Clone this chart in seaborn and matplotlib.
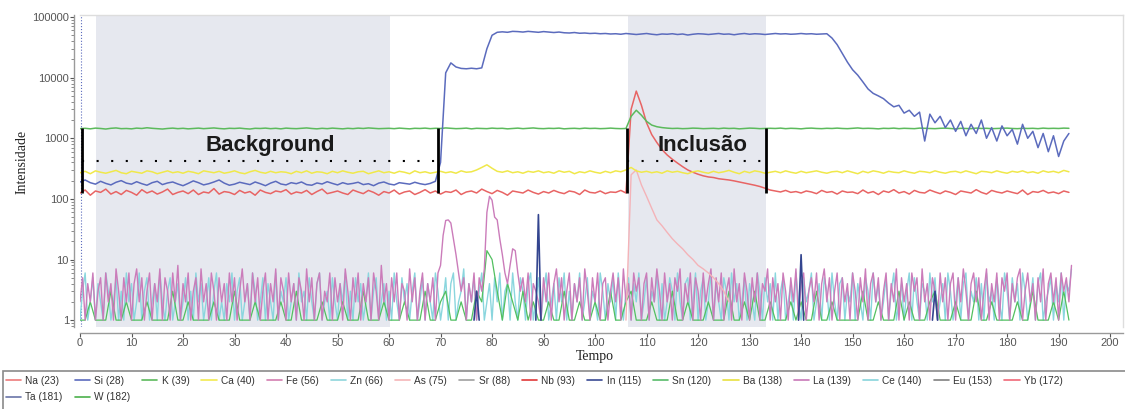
import matplotlib
matplotlib.use("Agg")
import numpy as np
import pandas as pd
import matplotlib.pyplot as plt
from matplotlib.lines import Line2D
from matplotlib.patches import Rectangle
from matplotlib.ticker import LogLocator, NullFormatter
import seaborn as sns

# ---------------- data ----------------
# 1-second series, t = 0 .. 192 s
si_vals = [
    190,205,185,175,195,180,170,188,200,182,175,192,178,168,185,195,172,183,190,176,
    165,180,198,185,170,178,190,205,182,168,175,188,180,172,190,178,165,182,195,176,
    170,185,178,190,172,168,183,176,192,180,170,185,175,180,188,172,178,165,182,190,
    176,170,185,180,175,188,178,172,180,195,
    400,12000,17500,15000,14200,14000,14300,14000,14500,30000,50000,56000,
    57000,56000,58000,57500,56500,58000,57000,56000,57500,56500,
    55500,56500,55000,54500,55500,54000,54500,53500,54000,53000,
    53500,52500,53000,52000,53500,52500,51500,52500,53500,52000,
    51000,52500,52000,53000,51500,52500,50500,52000,53000,52500,
    51500,52500,53500,52000,52500,51000,52500,53500,52000,53000,
    52500,51500,52500,53500,52500,53000,52000,52500,53500,52500,
    53000,52000,52500,53000,
    45000,35000,25000,18000,13500,11000,8500,6500,5500,5000,
    4500,3800,3300,3500,2600,2900,2300,2700,900,2500,
    1800,2300,1500,2000,1300,1900,1100,1700,1200,2000,
    1000,1500,900,1600,1100,1400,800,1700,1000,1300,
    700,1200,600,1100,500,900,1200,
]
k_vals = [
    1440,1460,1430,1470,1450,1420,1460,1480,1440,1450,
    1430,1470,1450,1490,1460,1440,1420,1450,1470,1440,
    1460,1430,1450,1470,1440,1460,1480,1450,1430,1460,
    1450,1470,1440,1420,1460,1450,1470,1440,1460,1430,
    1470,1450,1440,1460,1480,1450,1430,1460,1440,1470,
    1450,1430,1460,1440,1470,1450,1480,1460,1440,1450,
    1460,1440,1470,1450,1430,1460,1450,1470,1440,1460,
    1450,1480,1460,1440,1450,1470,1430,1460,1450,1440,
    1470,1450,1460,1430,1450,1470,1440,1460,1480,1450,
    1440,1460,1450,1470,1430,1450,1460,1440,1470,1450,
    1460,1440,1450,1470,1450,1440,
    1450,2300,2900,2400,1900,1650,1550,1500,
    1470,1450,1460,1440,1450,1470,1460,1440,1450,1460,
    1440,1470,1450,1460,1430,1450,1470,1460,1440,1450,
    1460,1450,1470,1440,1460,1450,1430,1460,1470,1450,
    1440,1460,1450,1470,1450,1440,1460,1480,1450,1460,
    1450,1430,1460,1450,1470,1440,1460,1450,1440,1470,
    1460,1450,1440,1460,1470,1450,1430,1460,1450,1440,
    1470,1450,1460,1440,1450,1460,1470,1450,1440,1460,
    1450,1460,1440,1470,1450,1460,1450,1470,1460,
]
ca_vals = [
    270,285,260,290,275,265,280,295,270,260,
    285,275,265,290,280,260,275,290,270,280,
    265,285,275,260,290,280,270,285,265,275,
    290,270,260,280,295,275,265,285,270,280,
    275,260,285,270,290,265,280,275,260,285,
    270,290,275,265,280,285,260,275,290,270,
    280,265,285,275,260,290,270,280,265,275,
    285,270,280,265,290,275,280,300,330,365,
    320,285,275,290,270,280,265,285,275,290,
    270,280,265,290,275,285,260,280,270,290,
    275,265,285,270,290,280,300,330,290,275,
    285,270,280,265,290,275,285,270,260,280,
    290,275,265,285,270,280,295,275,260,285,
    270,290,280,265,275,285,270,290,275,265,
    285,270,280,290,275,265,280,285,270,290,
    275,260,285,270,290,280,265,285,275,270,
    290,275,265,285,280,270,290,275,265,280,
    285,270,290,275,260,285,280,270,290,275,
    265,285,275,290,270,280,265,290,275,285,
    270,295,280,
]
na_vals = [
    125,140,115,135,128,145,120,132,118,138,
    128,115,142,125,135,120,130,145,118,128,
    135,122,140,118,130,125,148,120,132,128,
    118,138,125,132,115,140,128,122,135,130,
    142,120,130,125,138,118,132,145,122,128,
    135,125,118,140,130,122,138,128,115,132,
    125,140,120,130,135,118,128,142,125,135,
    120,132,128,140,118,130,135,125,145,132,
    122,138,128,115,135,130,125,140,128,120,
    132,125,138,128,122,135,130,118,140,128,
    125,135,122,130,128,138,125,3000,6000,3500,
    1800,1150,850,650,530,450,390,340,300,275,
    255,240,230,225,215,210,205,198,190,182,
    175,168,160,150,140,135,130,138,128,132,
    125,135,130,122,138,128,132,120,135,128,
    130,122,140,125,132,118,135,128,142,125,
    132,120,138,128,125,140,130,122,135,128,
    118,135,130,125,142,128,120,138,130,125,
    135,128,122,140,118,132,128,138,125,130,
    122,135,128,
]
sn_vals = [
    1,1,2,1,1,1,3,1,1,2,
    1,1,1,2,1,1,1,1,3,1,
    1,2,1,1,1,1,2,1,1,1,
    3,1,1,1,2,1,1,1,1,2,
    1,1,3,1,1,1,1,2,1,1,
    1,2,1,1,1,3,1,1,1,2,
    1,1,1,2,1,1,1,3,1,1,
    2,3,1,1,2,1,1,3,2,14,
    10,3,1,4,2,1,3,1,2,1,
    1,2,1,1,3,1,1,2,1,1,
    2,1,1,3,1,1,2,3,1,1,
    1,2,1,1,1,3,1,1,2,1,
    1,1,2,1,1,1,3,1,1,2,
    1,3,1,1,2,1,1,1,2,1,
    2,1,1,3,1,1,2,1,1,1,
    1,1,3,1,1,2,1,1,1,3,
    1,2,1,1,1,2,3,1,1,1,
    2,1,1,1,3,1,1,2,1,1,
    1,1,2,1,1,3,1,1,1,2,
    1,3,1,
]
# 0.5-second series, t = 0 .. 192.5 s
la_vals = [
    2,5,1,4,2,6,1,3,5,1,6,2,4,1,7,3,1,5,2,6,
    1,4,7,2,5,1,3,6,1,4,2,7,1,5,3,1,6,2,8,1,
    4,2,6,1,3,5,1,7,2,4,1,6,3,1,5,2,4,1,6,2,
    5,1,3,7,2,4,1,6,2,5,1,3,6,1,4,2,7,1,5,3,
    1,6,2,4,1,5,3,1,7,2,5,1,4,6,1,3,2,6,1,5,
    2,4,1,7,3,1,5,2,6,1,4,2,5,1,6,3,1,8,2,4,
    1,5,2,6,1,4,3,1,7,2,5,1,3,6,1,4,2,5,1,6,
    8,25,44,45,40,22,12,6,3,5,1,4,2,6,1,5,3,7,60,110,
    95,50,45,22,12,6,4,8,15,14,6,3,5,2,6,1,4,3,2,1,
    5,2,6,1,4,7,2,5,1,3,6,1,4,2,5,1,7,3,1,5,
    2,6,1,4,5,1,3,6,2,5,1,7,2,4,1,6,3,5,1,4,
    6,1,5,2,7,3,1,6,2,4,1,5,3,7,1,4,2,6,1,5,
    3,1,6,2,4,7,1,5,2,6,1,3,5,1,7,2,4,1,6,3,
    1,5,2,6,1,4,3,7,1,5,2,4,1,6,3,1,5,2,7,1,
    4,6,1,3,5,2,6,1,4,7,2,5,1,3,6,1,5,2,4,1,
    6,3,1,5,2,7,1,4,6,2,5,1,3,6,1,4,2,7,1,5,
    2,4,1,6,3,5,1,7,2,4,1,5,3,1,6,2,5,1,4,6,
    1,5,2,7,3,1,4,6,2,5,1,3,7,1,4,2,6,1,5,3,
    6,1,4,2,5,7,1,3,6,2,4,1,5,2,7,1,4,6,2,5,
    1,6,3,5,2,8,
]
ce_vals = [
    1,3,6,1,2,5,1,4,2,1,6,3,1,2,5,1,3,1,6,2,
    4,1,2,6,1,3,5,1,2,4,1,6,2,1,3,5,1,2,4,1,
    2,5,1,3,1,6,2,4,1,2,5,1,3,6,1,2,1,4,2,6,
    1,3,5,1,2,4,1,6,3,1,2,5,1,4,2,1,6,1,3,2,
    5,1,2,4,1,6,2,3,1,5,2,1,4,6,1,2,3,1,5,2,
    1,4,2,6,1,3,1,5,2,4,1,2,6,1,3,5,1,2,4,1,
    3,1,6,2,1,5,2,4,1,3,6,1,2,5,1,4,2,1,6,3,
    1,2,5,1,4,6,1,2,3,7,1,4,2,5,1,3,6,1,2,4,
    1,5,2,6,1,3,4,1,6,2,1,5,3,1,4,6,1,2,5,1,
    3,6,1,2,4,1,5,2,6,1,3,1,4,2,6,1,2,5,1,3,
    2,1,6,3,1,4,2,5,1,6,2,1,3,5,1,4,2,6,1,2,
    5,1,3,2,6,1,4,1,2,5,3,1,6,2,1,4,5,1,2,6,
    1,3,5,1,2,6,1,4,2,1,5,3,1,6,2,4,1,2,5,1,
    4,2,1,6,3,1,5,2,4,1,6,1,3,5,1,2,4,1,6,2,
    1,5,2,3,6,1,2,4,1,5,3,1,6,2,1,4,5,1,3,2,
    6,1,4,2,1,5,3,1,6,2,4,1,2,5,1,3,6,1,2,4,
    1,3,6,1,5,2,1,4,3,1,6,2,5,1,2,4,1,6,3,1,
    2,5,1,4,6,1,3,2,5,1,4,1,6,2,3,1,5,2,1,6,
    3,1,5,2,4,1,6,3,1,2,5,1,4,6,1,2,3,5,1,4,
    2,6,1,4,3,7,
]
# short As transient (starts at 106 s)
as_time = [106,107,108,109,110,111,112,113,114,115,116,117,118,119,120,121,122,123,124,125,126]
as_vals = [1,250,300,170,110,70,45,36,28,22,18,15,12,10,8,7,6,5,4,3,2]
# In spikes
in_time = [76.5,77,77.5, 88.5,89,89.5, 139.5,140,140.5, 165.5,166,166.5]
in_vals = [1,3,1, 1,55,1, 1,12,1, 1,3,1]
in_seg = [0,0,0, 1,1,1, 2,2,2, 3,3,3]

legend_labels = ["Na (23)", "Si (28)", "K (39)", "Ca (40)", "Fe (56)", "Zn (66)",
                 "As (75)", "Sr (88)", "Nb (93)", "In (115)", "Sn (120)", "Ba (138)",
                 "La (139)", "Ce (140)", "Eu (153)", "Yb (172)", "Ta (181)", "W (182)"]
legend_colors = ["#ec7b7b", "#5b6bbd", "#5cba5c", "#f2ea50", "#d37eb0", "#8fd6dc",
                 "#f5b5b8", "#a0a0a0", "#e03838", "#3a4a94", "#58bb6a", "#e8e040",
                 "#c878b8", "#88d4dc", "#808080", "#f06878", "#6a74a8", "#4cb04c"]

# ---------------- figure ----------------
sns.set_theme(style="white")
plt.rcParams["font.family"] = ["Liberation Sans", "DejaVu Sans"]

fig = plt.figure(figsize=(11.25, 4.09), dpi=100)
ax = fig.add_axes([80 / 1125, 82 / 409, 1043 / 1125, 312 / 409])

ax.axvspan(3.1, 60.2, color="#e6e8ef", zorder=0, lw=0)
ax.axvspan(106.4, 133.2, color="#e6e8ef", zorder=0, lw=0)

t1 = np.arange(len(si_vals)) * 1.0
th = np.arange(len(la_vals)) * 0.5


def draw(t, v, color, lw=1.0, z=2):
    sns.lineplot(x=np.asarray(t, float), y=np.asarray(v, float), ax=ax, color=color,
                 linewidth=lw, zorder=z, estimator=None, sort=False)


draw(th, ce_vals, "#8ad6de", 1.0, 2)
draw(np.arange(len(sn_vals)) * 1.0, sn_vals, "#52c060", 0.9, 2.1)
draw(th, la_vals, "#cb7cba", 1.0, 2.2)
in_df = pd.DataFrame({"t": in_time, "v": in_vals, "seg": in_seg})
sns.lineplot(data=in_df, x="t", y="v", units="seg", estimator=None, ax=ax,
             color="#33458f", linewidth=1.2, zorder=2.3)
draw(as_time, as_vals, "#f4b3b8", 1.0, 2.4)
draw(np.arange(len(na_vals)) * 1.0, na_vals, "#e86464", 1.1, 3)
draw(np.arange(len(ca_vals)) * 1.0, ca_vals, "#f0e84a", 1.1, 3.1)
draw(np.arange(len(k_vals)) * 1.0, k_vals, "#5cba5c", 1.1, 3.2)
draw(t1, si_vals, "#5b6bbd", 1.1, 3.3)

ax.set_yscale("log")
ax.set_ylim(0.77, 108000)
ax.set_xlim(0, 202.5)

# left edge marker
ax.axvline(0.15, color="#5b6bbd", ls=":", lw=0.8, zorder=1)

# annotation brackets
for xv in [0.4, 69.5, 106.2, 133.2]:
    ax.plot([xv, xv], [125, 1470], color="black", lw=2, zorder=5, solid_capstyle="butt")
for a, b in [(0.4, 69.5), (106.2, 133.2)]:
    ax.plot([a, b], [420, 420], color="black", lw=1.5, ls=(0, (1, 6)), zorder=5)
ax.text(36.9, 760, "Background", ha="center", va="center", fontsize=16,
        fontweight="bold", color="#1a1a1a", zorder=6)
ax.text(120.8, 760, "Inclusão", ha="center", va="center", fontsize=16,
        fontweight="bold", color="#1a1a1a", zorder=6)

# axes styling
ax.set_yticks([1, 10, 100, 1000, 10000, 100000])
ax.set_yticklabels(["1", "10", "100", "1000", "10000", "100000"])
ax.yaxis.set_minor_locator(LogLocator(base=10, subs=np.arange(2, 10)))
ax.yaxis.set_minor_formatter(NullFormatter())
ax.set_xticks(np.arange(0, 201, 10))
ax.tick_params(axis="both", which="major", labelsize=8, colors="#555555",
               length=3, width=0.8, direction="out", left=True, bottom=True, pad=1)
ax.tick_params(axis="y", which="minor", length=2, width=0.6, colors="#777777", left=True)
for s in ["top", "right"]:
    ax.spines[s].set_color("#dddddd")
    ax.spines[s].set_linewidth(1)
for s in ["left", "bottom"]:
    ax.spines[s].set_position(("outward", 4))
    ax.spines[s].set_color("#9a9a9a")
    ax.spines[s].set_linewidth(1)

ax.set_ylabel("Intensidade", family=["Liberation Serif", "DejaVu Serif"], fontsize=10,
              color="#222222")
ax.yaxis.set_label_coords(-0.049, 0.53)
ax.set_xlabel("Tempo", family=["Liberation Serif", "DejaVu Serif"], fontsize=10,
              color="#222222")
ax.xaxis.set_label_coords(0.494, -0.074)

# legend (row-major appearance: 16 columns, Ta & W in second row)
handles = [Line2D([0], [0], color=c, lw=1.2) for c in legend_colors]
order = [0, 16, 1, 17] + list(range(2, 16))
fig.legend([handles[i] for i in order], [legend_labels[i] for i in order],
           loc="upper left", bbox_to_anchor=(6 / 1125, 1 - 376 / 409), ncol=16,
           frameon=False, fontsize=7.3, handlelength=1.5, handletextpad=0.4,
           columnspacing=1.2, labelspacing=0.6, borderpad=0, borderaxespad=0,
           labelcolor="#333333")
fig.add_artist(Rectangle((3 / 1125, -0.02), 1.0, (409 - 371) / 409 + 0.02,
                         transform=fig.transFigure, fill=False,
                         edgecolor="#8a8a8a", lw=1.2))

fig.savefig("out.png", dpi=100)
